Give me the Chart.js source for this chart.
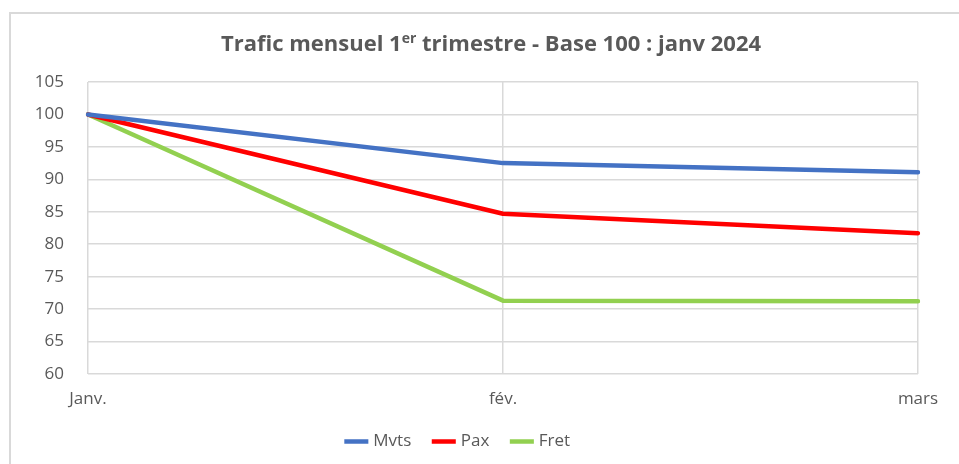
<!DOCTYPE html>
<html>
<head>
<meta charset="utf-8">
<script src="https://cdn.jsdelivr.net/npm/chart.js@4.4.1/dist/chart.umd.min.js"></script>
<style>
  html, body { margin: 0; padding: 0; background: #fff; }
  #wrap { position: relative; width: 959px; height: 464px; }
  #frame { position: absolute; left: 9px; top: 12px; right: 0; bottom: 0;
           border-top: 2px solid #d9d9d9; border-left: 2px solid #d9d9d9; }
  canvas { position: absolute; left: 0; top: 0; }
</style>
</head>
<body>
<div id="wrap">
  <div id="frame"></div>
  <canvas id="chart" width="959" height="464"></canvas>
</div>
<script>
// Trafic mensuel, base 100 = janvier 2024
const months = ['Janv.', 'fév.', 'mars'];
const mvts = [100, 92.5, 91.1];
const pax = [100, 84.7, 81.7];
const fret = [100, 71.3, 71.2];

const yMin = 60;
const yMax = 105;
const yStep = 5;

const textColor = '#595959';
const gridColor = '#d9d9d9';
const fontFamily = "'Open Sans', 'Noto Sans', sans-serif";

// title with superscript "er", drawn by hand
const titlePlugin = {
    id: 'supTitle',
    afterDraw(chart) {
        const ctx = chart.ctx;
        const parts = [
            { text: 'Trafic mensuel 1', size: 22, dy: 0 },
            { text: 'er', size: 14, dy: -8 },
            { text: ' trimestre - Base 100 : janv 2024', size: 22, dy: 0 }
        ];
        ctx.save();
        ctx.fillStyle = textColor;
        ctx.textBaseline = 'alphabetic';
        let total = 0;
        parts.forEach(p => {
            ctx.font = 'bold ' + p.size + 'px ' + fontFamily;
            p.w = ctx.measureText(p.text).width;
            total += p.w;
        });
        let x = 491 - total / 2;
        const baseY = 51;
        parts.forEach(p => {
            ctx.font = 'bold ' + p.size + 'px ' + fontFamily;
            ctx.fillText(p.text, x, baseY + p.dy);
            x += p.w;
        });
        ctx.restore();
    }
};

function makeSet(label, data, color) {
    return {
        label: label,
        data: data,
        borderColor: color,
        backgroundColor: color,
        borderWidth: 4.5,
        borderJoinStyle: 'round',
        borderCapStyle: 'round',
        pointRadius: 0,
        pointHoverRadius: 0,
        tension: 0,
        fill: false
    };
}

new Chart(document.getElementById('chart'), {
    type: 'line',
    data: {
        labels: months,
        datasets: [
            makeSet('Mvts', mvts, '#4472c4'),
            makeSet('Pax', pax, '#ff0000'),
            makeSet('Fret', fret, '#92d050')
        ]
    },
    options: {
        responsive: false,
        animation: false,
        layout: { padding: { top: 82, right: 41, bottom: 4, left: 0 } },
        plugins: {
            title: { display: false },
            tooltip: { enabled: false },
            legend: {
                position: 'bottom',
                labels: {
                    usePointStyle: true,
                    pointStyle: 'line',
                    boxWidth: 57,
                    padding: 24,
                    color: textColor,
                    font: { size: 17, family: fontFamily }
                }
            }
        },
        scales: {
            x: {
                offset: false,
                afterFit: s => { s.height = 35; },
                grid: { color: gridColor, lineWidth: 1.5, drawTicks: false },
                border: { display: false },
                ticks: {
                    padding: 15,
                    color: textColor,
                    font: { size: 17, family: fontFamily },
                    maxRotation: 0
                }
            },
            y: {
                min: yMin,
                max: yMax,
                afterFit: s => { s.width = 88; },
                grid: { color: gridColor, lineWidth: 1.5, drawTicks: false },
                border: { display: false },
                ticks: {
                    stepSize: yStep,
                    padding: 24,
                    color: textColor,
                    font: { size: 17, family: fontFamily }
                }
            }
        }
    },
    plugins: [titlePlugin]
});
</script>
</body>
</html>
